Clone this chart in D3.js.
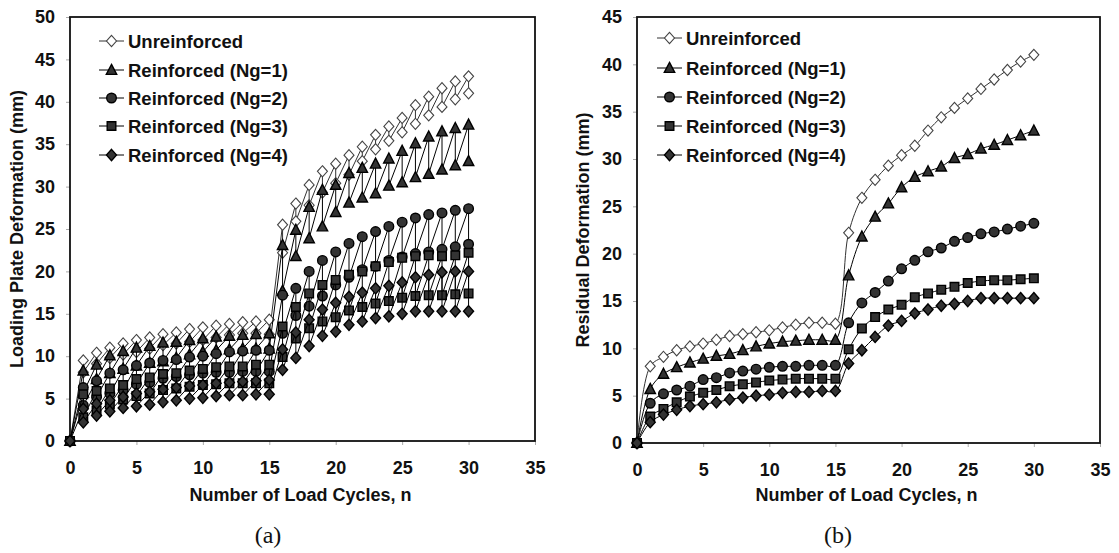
<!DOCTYPE html>
<html>
<head>
<meta charset="utf-8">
<script src="https://cdn.jsdelivr.net/npm/d3@7"></script>
<style>
  html, body { margin: 0; padding: 0; background: #fff; }
  svg { display: block; }
  text { font-family: "Liberation Sans", Arial, Helvetica, sans-serif; font-weight: bold; fill: #111; }
  .cap { font-family: "Liberation Serif", "Times New Roman", serif; font-weight: normal; }
</style>
</head>
<body>
<svg id="chart" width="1119" height="553"></svg>
<script>
// ---------------- data ----------------
const cycles = [0,1,2,3,4,5,6,7,8,9,10,11,12,13,14,15,16,17,18,19,20,21,22,23,24,25,26,27,28,29,30];
const seriesNames = ["Unreinforced","Reinforced (Ng=1)","Reinforced (Ng=2)","Reinforced (Ng=3)","Reinforced (Ng=4)"];
const seriesMarkers = ["diamondOpen","triangle","circle","square","diamond"];

// peak (loaded) plate deformation, mm, per cycle (panel a upper points)
const peakUnr = [0, 9.5, 10.4, 11.0, 11.5, 11.9, 12.2, 12.6, 12.8, 13.2, 13.4, 13.6, 13.8, 14.0, 14.1, 14.3, 25.5, 28.0, 30.2, 31.8, 32.7, 33.7, 34.7, 36.1, 37.1, 38.1, 39.6, 40.6, 41.6, 42.4, 43.0];
const peakNg1 = [0, 8.3, 9.0, 10.1, 10.6, 11.0, 11.2, 11.6, 11.7, 11.9, 12.1, 12.3, 12.4, 12.5, 12.6, 12.7, 23.1, 24.9, 27.6, 29.6, 30.2, 31.6, 32.2, 32.7, 33.3, 34.2, 35.1, 35.9, 36.5, 36.9, 37.3];
const peakNg2 = [0, 6.3, 7.1, 8.0, 8.4, 8.9, 9.2, 9.5, 9.6, 9.9, 10.0, 10.3, 10.5, 10.6, 10.7, 10.7, 17.2, 18.0, 20.0, 21.3, 22.3, 23.3, 24.1, 24.7, 25.3, 25.8, 26.3, 26.7, 26.9, 27.2, 27.4];
const peakNg3 = [0, 5.5, 5.9, 6.2, 6.6, 7.3, 7.5, 7.9, 8.0, 8.3, 8.5, 8.7, 8.8, 8.8, 9.0, 9.0, 13.5, 15.8, 17.4, 18.4, 19.0, 19.6, 20.0, 20.6, 21.1, 21.6, 21.8, 21.9, 21.8, 21.9, 22.2];
const peakNg4 = [0, 3.8, 4.4, 4.8, 5.2, 5.6, 5.8, 6.1, 6.3, 6.5, 6.6, 6.8, 6.9, 7.0, 7.1, 7.2, 10.8, 12.8, 14.3, 15.5, 16.3, 17.0, 17.5, 18.0, 18.3, 18.7, 19.3, 19.6, 19.9, 20.0, 20.0];

// residual deformation, mm, per cycle (panel b, and panel a lower points)
const resUnr = [0, 8.1, 9.1, 9.8, 10.2, 10.5, 10.9, 11.3, 11.5, 11.7, 11.9, 12.2, 12.5, 12.7, 12.7, 12.6, 22.2, 25.9, 27.8, 29.3, 30.4, 31.4, 33.0, 34.4, 35.4, 36.4, 37.4, 38.4, 39.4, 40.3, 41.0];
const resNg1 = [0, 5.7, 7.3, 8.0, 8.5, 8.9, 9.2, 9.4, 9.8, 10.2, 10.5, 10.7, 10.8, 10.9, 10.9, 10.9, 17.7, 21.8, 23.9, 25.3, 27.0, 28.1, 28.7, 29.2, 30.1, 30.5, 31.1, 31.5, 32.0, 32.5, 33.0];
const resNg2 = [0, 4.2, 5.2, 5.6, 6.0, 6.7, 6.9, 7.4, 7.6, 7.8, 8.0, 8.1, 8.1, 8.2, 8.2, 8.2, 12.7, 14.8, 15.9, 17.1, 18.4, 19.3, 20.2, 20.6, 21.3, 21.7, 22.1, 22.3, 22.6, 22.9, 23.2];
const resNg3 = [0, 2.8, 3.6, 4.3, 4.9, 5.3, 5.6, 6.0, 6.2, 6.4, 6.6, 6.7, 6.8, 6.8, 6.8, 6.8, 9.9, 12.1, 13.3, 14.1, 14.6, 15.4, 15.8, 16.2, 16.5, 16.9, 17.1, 17.2, 17.2, 17.3, 17.4];
const resNg4 = [0, 2.2, 3.0, 3.5, 3.9, 4.1, 4.3, 4.6, 4.8, 5.0, 5.1, 5.3, 5.4, 5.4, 5.5, 5.5, 8.4, 9.8, 11.2, 12.4, 12.9, 13.7, 14.1, 14.5, 14.7, 15.0, 15.3, 15.3, 15.3, 15.3, 15.3];

const xTicks = [0,5,10,15,20,25,30,35];
const yTicksA = [0,5,10,15,20,25,30,35,40,45,50];
const yTicksB = [0,5,10,15,20,25,30,35,40,45];

const peaks = [peakUnr, peakNg1, peakNg2, peakNg3, peakNg4];
const residuals = [resUnr, resNg1, resNg2, resNg3, resNg4];

// ---------------- drawing ----------------
const svg = d3.select("#chart");

function markerPath(type) {
  const p = d3.path();
  if (type === "diamondOpen" || type === "diamond") {
    p.moveTo(0,-5.6); p.lineTo(5,0); p.lineTo(0,5.6); p.lineTo(-5,0); p.closePath();
  } else if (type === "triangle") {
    p.moveTo(0,-5.6); p.lineTo(5.2,4.4); p.lineTo(-5.2,4.4); p.closePath();
  } else if (type === "circle") {
    p.arc(0,0,4.8,0,2*Math.PI); p.closePath();
  } else if (type === "square") {
    p.rect(-4.3,-4.3,8.6,8.6);
  }
  return p.toString();
}
function styleMarker(sel, type) {
  if (type === "diamondOpen") {
    sel.attr("fill","#fff").attr("stroke","#444").attr("stroke-width",1.1);
  } else {
    sel.attr("fill","#333").attr("stroke","#000").attr("stroke-width",1.4);
  }
}

function panel(opts) {
  const g = svg.append("g");
  const x = d3.scaleLinear().domain([0,35]).range([opts.left, opts.right]);
  const y = d3.scaleLinear().domain([0,opts.yMax]).range([opts.bottom, opts.top]);

  // axes
  const xAxis = d3.axisBottom(x).tickValues(xTicks).tickSize(4).tickPadding(16).tickFormat(d3.format("d"));
  const yAxis = d3.axisLeft(y).tickValues(opts.yTicks).tickSize(4).tickPadding(11).tickFormat(d3.format("d"));
  const gx = g.append("g").attr("transform",`translate(0,${opts.bottom})`).call(xAxis);
  const gy = g.append("g").attr("transform",`translate(${opts.left},0)`).call(yAxis);
  [gx, gy].forEach(a => {
    a.select(".domain").remove();
    a.selectAll(".tick line").attr("stroke","#aaa").attr("stroke-width",1);
    a.selectAll(".tick text").style("font-size","18px").attr("fill","#111")
      .style("font-family",'"Liberation Sans", Arial, sans-serif').style("font-weight","bold");
  });

  // frame
  g.append("rect").attr("x",opts.left).attr("y",opts.top)
    .attr("width",opts.right-opts.left).attr("height",opts.bottom-opts.top)
    .attr("fill","none").attr("stroke","#111").attr("stroke-width",1.8);

  // titles
  g.append("text").attr("x",(opts.left+opts.right)/2 - 2).attr("y",501)
    .attr("text-anchor","middle").style("font-size","18px").text("Number of Load Cycles, n");
  g.append("text").attr("transform",`translate(${opts.yTitleX},${(opts.top+opts.bottom)/2}) rotate(-90)`)
    .attr("text-anchor","middle").style("font-size","18px").text(opts.yTitle);
  g.append("text").attr("class","cap").attr("x",opts.capX).attr("y",543)
    .attr("text-anchor","middle").style("font-size","24px").text(opts.cap);

  // series
  seriesNames.forEach((name, si) => {
    const pts = opts.points(si);
    const line = d3.line().x(d => x(d[0])).y(d => y(d[1]));
    if (opts.curve) line.curve(opts.curve);
    g.append("path").attr("d", line(pts)).attr("fill","none")
      .attr("stroke", si === 0 ? "#333" : "#000").attr("stroke-width",1);
    const m = g.append("g").selectAll("path").data(pts).join("path")
      .attr("d", markerPath(seriesMarkers[si]))
      .attr("transform", d => `translate(${x(d[0])},${y(d[1])})`);
    styleMarker(m, seriesMarkers[si]);
  });

  // legend
  const lg = g.append("g");
  seriesNames.forEach((name, si) => {
    const ly = opts.legendY[si];
    lg.append("line").attr("x1",opts.legendX).attr("x2",opts.legendX+25)
      .attr("y1",ly).attr("y2",ly).attr("stroke",si===0?"#333":"#000").attr("stroke-width",1);
    const m = lg.append("path").attr("d", markerPath(seriesMarkers[si]))
      .attr("transform",`translate(${opts.legendX+12.5},${ly})`);
    styleMarker(m, seriesMarkers[si]);
    lg.append("text").attr("x",opts.legendX+29).attr("y",ly+6.5)
      .style("font-size","18.5px").text(name);
  });
}

// panel (a): sawtooth loading-unloading sequence
panel({
  left: 70, right: 535, top: 17, bottom: 441, yMax: 50, yTicks: yTicksA,
  yTitle: "Loading Plate Deformation (mm)", yTitleX: 23, cap: "(a)", capX: 268,
  legendX: 99, legendY: [41, 70, 98, 126, 155],
  points: si => {
    const pts = [[cycles[0], peaks[si][0]]];
    for (let i = 1; i < cycles.length; i++) {
      pts.push([cycles[i], peaks[si][i]]);
      pts.push([cycles[i], residuals[si][i]]);
    }
    return pts;
  }
});

// panel (b): residual deformation, smoothed lines
panel({
  left: 637, right: 1100, top: 17, bottom: 443, yMax: 45, yTicks: yTicksB,
  yTitle: "Residual Deformation (mm)", yTitleX: 589, cap: "(b)", capX: 838,
  legendX: 657, legendY: [38, 68, 97, 126, 155],
  curve: d3.curveCatmullRom.alpha(0.5),
  points: si => cycles.map((c, i) => [c, residuals[si][i]])
});
</script>
</body>
</html>
